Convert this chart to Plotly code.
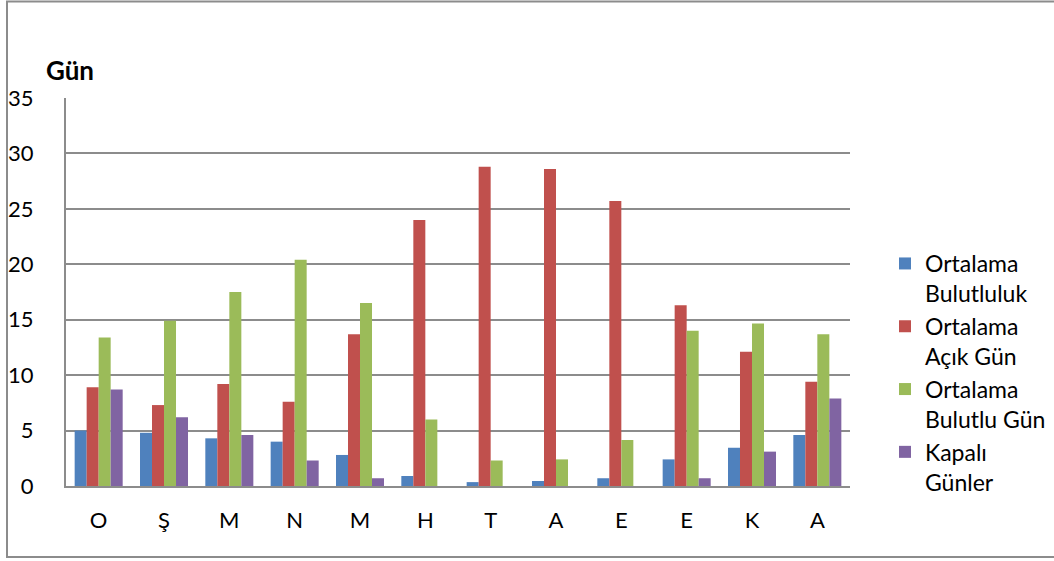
import plotly.graph_objects as go

months = ["O", "Ş", "M", "N", "M ", "H", "T", "A", "E", "E ", "K", "A "]
month_labels = ["O", "Ş", "M", "N", "M", "H", "T", "A", "E", "E", "K", "A"]
ort_bulutluluk = [5.0, 4.8, 4.3, 4.0, 2.8, 0.9, 0.35, 0.45, 0.7, 2.4, 3.45, 4.6]
ort_acik_gun = [8.9, 7.3, 9.2, 7.6, 13.7, 24.0, 28.8, 28.6, 25.7, 16.3, 12.1, 9.4]
ort_bulutlu_gun = [13.4, 14.9, 17.5, 20.4, 16.5, 6.0, 2.3, 2.4, 4.15, 14.0, 14.65, 13.7]
kapali_gunler = [8.7, 6.2, 4.6, 2.3, 0.7, 0, 0, 0, 0, 0.7, 3.1, 7.9]

series = [
    ("Ortalama<br>Bulutluluk", ort_bulutluluk, "#4F81BD"),
    ("Ortalama<br>Açık Gün", ort_acik_gun, "#C0504D"),
    ("Ortalama<br>Bulutlu Gün", ort_bulutlu_gun, "#9BBB59"),
    ("Kapalı<br>Günler", kapali_gunler, "#8064A2"),
]

FONT = "Lato"
W, H = 1054, 561
L, R, T, B = 66, 850, 98, 486

fig = go.Figure()
for name, vals, col in series:
    fig.add_trace(go.Bar(x=months, y=vals, name=name, marker_color=col,
                         marker_line_width=0))

pw = R - L
ph = B - T
def px_x(p):
    return (p - L) / pw
def px_y(p):
    return (B - p) / ph

fig.update_layout(
    width=W, height=H,
    margin=dict(l=L, r=W - R, t=T, b=H - B, pad=0, autoexpand=False),
    paper_bgcolor="white", plot_bgcolor="white",
    barmode="group", bargap=0.265, bargroupgap=0,
    font=dict(family=FONT, size=22, color="#000000"),
    legend=dict(x=px_x(885), y=px_y(242), xanchor="left", yanchor="top",
                font=dict(family=FONT, size=23), valign="top",
                tracegroupgap=0, itemwidth=30, traceorder="normal",
                bgcolor="rgba(0,0,0,0)"),
    showlegend=True,
)
fig.update_xaxes(
    tickmode="array", tickvals=months, ticktext=month_labels,
    showline=True, linecolor="#8c8c8c", linewidth=2,
    showgrid=False, ticks="", ticklabelstandoff=14,
    tickfont=dict(family=FONT, size=22),
)
fig.update_yaxes(
    range=[0, 35], dtick=5, showgrid=True, gridcolor="#8c8c8c", gridwidth=1.5,
    showline=True, linecolor="#8c8c8c", linewidth=2, zeroline=False,
    ticks="", ticklabelstandoff=26,
    tickfont=dict(family=FONT, size=22),
)
fig.add_annotation(text="<b>Gün</b>", x=px_x(44), y=px_y(70), xref="paper", yref="paper",
                   xanchor="left", yanchor="middle", showarrow=False,
                   font=dict(family=FONT, size=26, color="#000000"))
fig.add_shape(type="rect", xref="paper", yref="paper",
              x0=px_x(7), x1=px_x(1060), y0=px_y(557), y1=px_y(1.5),
              line=dict(color="#8c8c8c", width=2), layer="below")

fig.write_html("out.html")
